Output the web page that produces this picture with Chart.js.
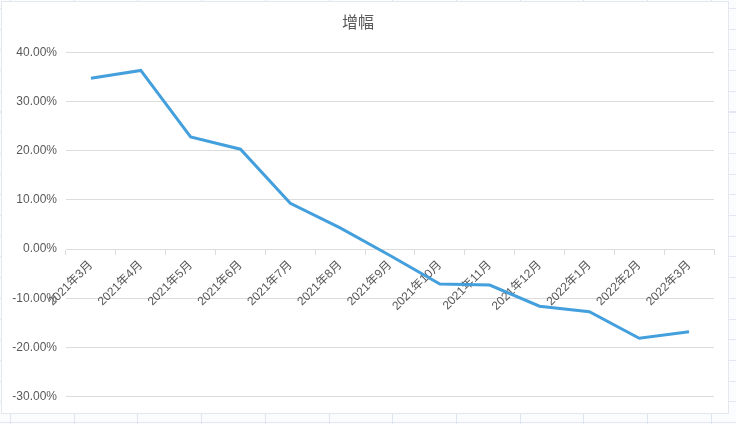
<!DOCTYPE html>
<html lang="zh">
<head>
    <meta charset="UTF-8">
    <title>增幅</title>
    <script src="https://cdn.jsdelivr.net/npm/chart.js"></script>
    <style>
body {
    margin: 0;
    padding: 0;
    width: 736px;
    height: 424px;
    overflow: hidden;
    background-color: #fbfcfe;
    /* spreadsheet cells behind the chart */
    background-image:
        repeating-linear-gradient(to right, #dfe5f0 0, #dfe5f0 1px, transparent 1px, transparent 63.7px),
        repeating-linear-gradient(to bottom, #e3e8f2 0, #e3e8f2 1px, transparent 1px, transparent 20.7px);
    background-position: 10px 0, 0 8px;
}

.chart-box {
    position: absolute;
    left: 2px;
    top: 2px;
    width: 726px;
    height: 411px;
    background: #ffffff;
    box-shadow: 0 0 0 1px #e4e7ee;
}
    </style>
</head>
<body>
    <div class="chart-box">
        <canvas id="growthChart"></canvas>
    </div>
    <script>
        const months = ['2021年3月', '2021年4月', '2021年5月', '2021年6月', '2021年7月', '2021年8月', '2021年9月',
                        '2021年10月', '2021年11月', '2021年12月', '2022年1月', '2022年2月', '2022年3月'];
        const growth = [34.7, 36.3, 22.8, 20.3, 9.3, 4.3, -1.3, -7.1, -7.3, -11.6, -12.7, -18.1, -16.8];
        const yTicks = [-30, -20, -10, 0, 10, 20, 30, 40];

        const textColor = '#595959';
        const gridColor = '#dcdcdc';
        const font = { family: "'Liberation Sans', 'Noto Sans CJK SC', sans-serif", size: 12 };

        const ctx = document.getElementById('growthChart').getContext('2d');
        new Chart(ctx, {
            type: 'line',
            data: {
                labels: months,
                datasets: [{
                    label: '增幅',
                    data: growth,
                    borderColor: '#449fdd',
                    borderWidth: 3,
                    pointRadius: 0,
                    tension: 0,
                    fill: false
                }]
            },
            options: {
                responsive: true,
                maintainAspectRatio: false,
                animation: false,
                layout: { padding: { top: 0, right: 14, bottom: 13, left: 0 } },
                plugins: {
                    legend: { display: false },
                    tooltip: { enabled: false },
                    title: {
                        display: true,
                        text: '增幅',
                        color: textColor,
                        font: { family: "'Noto Sans CJK SC', sans-serif", size: 16, weight: 'normal' },
                        padding: { top: 10, bottom: 21 }
                    }
                },
                scales: {
                    x: {
                        type: 'category',
                        offset: true,
                        position: { y: 0 },
                        afterFit: scale => { scale.height = 0; },
                        border: { display: true, color: gridColor, width: 1 },
                        grid: {
                            drawOnChartArea: false,
                            drawTicks: true,
                            tickLength: 5,
                            offset: true,
                            color: gridColor
                        },
                        ticks: {
                            color: textColor,
                            font: font,
                            minRotation: 45,
                            maxRotation: 45,
                            autoSkip: false,
                            padding: 4
                        }
                    },
                    y: {
                        min: yTicks[0],
                        max: yTicks[yTicks.length - 1],
                        afterBuildTicks: scale => { scale.ticks = yTicks.map(v => ({ value: v })); },
                        afterFit: scale => { scale.width = 64; },
                        border: { display: false },
                        grid: { color: gridColor, drawTicks: false },
                        ticks: {
                            color: textColor,
                            font: font,
                            padding: 9,
                            callback: v => v.toFixed(2) + '%'
                        }
                    }
                }
            }
        });
    </script>
</body>
</html>
